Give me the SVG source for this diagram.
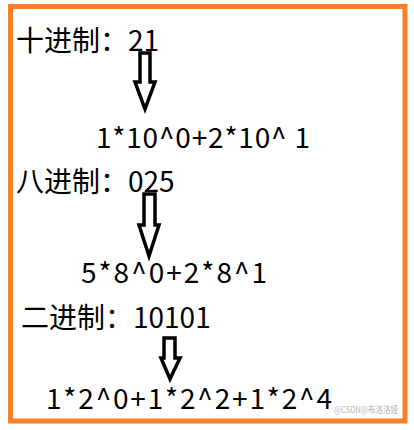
<svg xmlns="http://www.w3.org/2000/svg" width="414" height="430" viewBox="0 0 414 430">
<style>
.t{font-family:"Noto Sans CJK SC","Noto Sans",sans-serif;font-size:28px;fill:#000}
.a{fill:#fff;stroke:#000;stroke-width:3.5;stroke-linejoin:miter}
.wm{font-family:"Noto Sans CJK SC",sans-serif;font-size:9.5px;fill:#b8b8b8}
</style>
<rect x="0" y="0" width="414" height="430" fill="#fff"/>
<rect x="10.5" y="6.5" width="394.5" height="414.5" fill="#fff" stroke="#F5822A" stroke-width="5"/>
<g id="n1"><text class="t" x="16" y="51">十进制：21</text></g>
<g id="n2"><text class="t" x="96" y="148" textLength="214" lengthAdjust="spacing">1*10^0+2*10^ 1</text></g>
<g id="n3"><text class="t" x="16" y="192">八进制：025</text></g>
<g id="n4"><text class="t" x="81" y="283" textLength="186" lengthAdjust="spacing">5*8^0+2*8^1</text></g>
<g id="n5"><text class="t" x="21" y="328">二进制：10101</text></g>
<g id="n6"><text class="t" x="46" y="409" textLength="286" lengthAdjust="spacing">1*2^0+1*2^2+1*2^4</text></g>
<g id="connectors">
<polygon class="a" points="140,53 150,53 150,82 155,82 145,109 135,82 140,82"/>
<polygon class="a" points="144,194 155,194 155,225 159,225 149,256 139,225 144,225"/>
<polygon class="a" points="164,338 175,338 175,358 180,358 170,379 161,358 164,358"/>
</g>
<text class="wm" x="334" y="413" textLength="64" lengthAdjust="spacingAndGlyphs">@CSDN@布洛洛娅</text>
</svg>
